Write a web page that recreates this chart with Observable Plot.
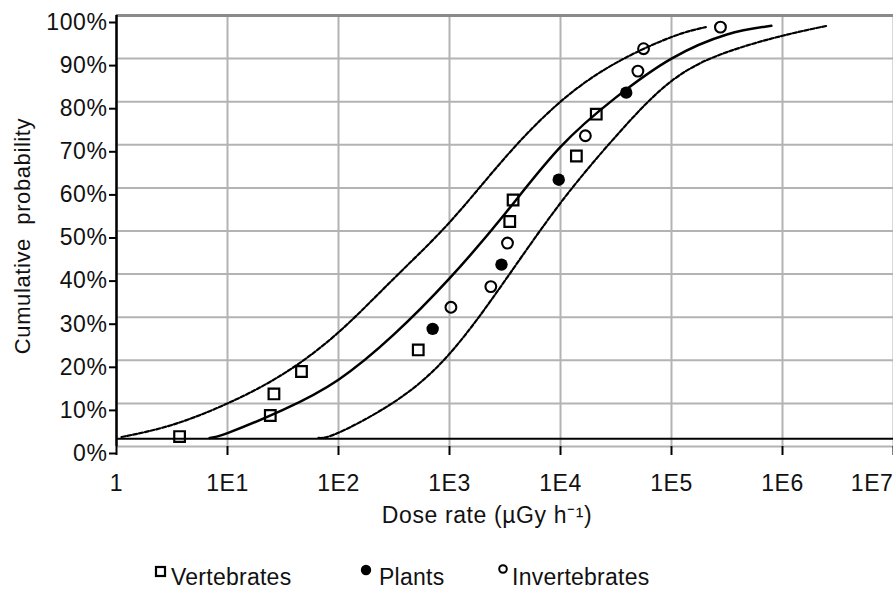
<!DOCTYPE html>
<html>
<head>
<meta charset="utf-8">
<script src="https://cdn.jsdelivr.net/npm/d3@7"></script>
<script src="https://cdn.jsdelivr.net/npm/@observablehq/plot@0.6"></script>
<style>
  html, body { margin: 0; padding: 0; background: white; overflow: hidden; }
  #wrap { position: relative; width: 893px; height: 603px; font-family: "Liberation Sans", Arial, sans-serif; }
  .leg { position: absolute; font-size: 23px; line-height: 23px; letter-spacing: 0.25px; color: #111; white-space: nowrap; }
  .mk { position: absolute; }
  svg text { letter-spacing: 0.6px; }
</style>
</head>
<body>
<div id="wrap"></div>
<script>
// ---- Data ----
const xTicks = [1, 10, 100, 1000, 10000, 100000, 1000000, 10000000];
const xTickLabels = ["1", "1E1", "1E2", "1E3", "1E4", "1E5", "1E6", "1E7"];
const yTicks = [0, 10, 20, 30, 40, 50, 60, 70, 80, 90, 100];

// Vertebrates (open squares)
const vertDose = [3.7, 24.3, 26.2, 46.4, 523, 3490, 3740, 13900, 21000];
const vertProb = [2.3, 7.2, 12.2, 17.4, 22.4, 52.2, 57.2, 67.4, 77.1];
// Plants (filled circles)
const plantDose = [705, 2940, 9640, 39100];
const plantProb = [27.3, 42.2, 61.9, 82.1];
// Invertebrates (open circles)
const invDose = [1030, 2357, 3330, 16750, 49800, 56000, 276000];
const invProb = [32.3, 37.1, 47.2, 72.1, 87.1, 92.3, 97.3];

// Fitted curve (solid) and its two bounds (dashed)
const midDose = [6.9, 10, 31.6, 100, 316, 1000, 3162, 10000, 31623, 100000, 316000, 794000];
const midProb = [2.0, 3.1, 8.5, 15.5, 26, 39, 54, 69.5, 81, 90, 95.6, 97.6];

const lowDose = [1.11, 3.16, 10, 31.6, 100, 316, 1000, 3162, 10000, 31623, 100000, 204000];
const lowProb = [2.2, 5.0, 10, 16.8, 26.5, 39, 52, 67, 80, 89, 95, 97.3];

const highDose = [66, 100, 316, 1000, 3162, 10000, 31623, 100000, 316000, 1000000, 2510000];
const highProb = [2.0, 3.2, 10.3, 21.5, 38.5, 56.5, 72, 84.8, 91.5, 95.3, 97.6];

const floorProb = 1.8;

const legendItems = ["Vertebrates", "Plants", "Invertebrates"];

// ---- Build tables ----
const zip = (xs, ys) => xs.map((x, i) => ({x, y: ys[i]}));
const vert = zip(vertDose, vertProb);
const plant = zip(plantDose, plantProb);
const inv = zip(invDose, invProb);
const mid = zip(midDose, midProb);
const low = zip(lowDose, lowProb);
const high = zip(highDose, highProb);
const tickRows = xTicks.map((v, i) => ({v, label: xTickLabels[i]}));

const font = "'Liberation Sans', Arial, sans-serif";
const fs = 23;

const chart = Plot.plot({
  width: 893,
  height: 603,
  marginLeft: 116,
  marginRight: 0,
  marginTop: 15,
  marginBottom: 157,
  style: {fontFamily: font, fontSize: fs + "px", background: "white", color: "#111", overflow: "visible"},
  x: {type: "log", domain: [1, 1e7]},
  y: {domain: [0, 100]},
  marks: [
    Plot.gridX(xTicks, {stroke: "#b3b3b3", strokeOpacity: 1, strokeWidth: 2}),
    Plot.gridY(yTicks, {stroke: "#b3b3b3", strokeOpacity: 1, strokeWidth: 2}),
    Plot.ruleY([100], {stroke: "#8a8a8a", strokeWidth: 3}),
    Plot.ruleY([floorProb], {stroke: "black", strokeWidth: 2}),
    Plot.ruleX([1], {stroke: "black", strokeWidth: 2.5}),
    Plot.axisY(yTicks, {tickSize: 7, tickPadding: 2, stroke: "black", strokeWidth: 2, fill: "#111",
      tickFormat: d => d + "%", dy: 7, fontSize: fs, label: null}),
    Plot.axisX(xTicks, {tickSize: 9, stroke: "black", strokeWidth: 2, tickFormat: () => "", label: null}),
    Plot.text(tickRows.slice(0, -1), {x: "v", text: "label", frameAnchor: "bottom", dy: 37, lineAnchor: "middle", textAnchor: "middle", fontSize: fs, fill: "#111"}),
    Plot.text(tickRows.slice(-1), {x: "v", text: "label", frameAnchor: "bottom", dy: 37, lineAnchor: "middle", textAnchor: "end", fontSize: fs, fill: "#111"}),
    Plot.text(["Dose rate (µGy h⁻¹)"], {frameAnchor: "bottom", dx: -18, dy: 69, lineAnchor: "middle", textAnchor: "middle", fontSize: fs, fill: "#111", style: "letter-spacing:1.1px"}),
    Plot.text(["Cumulative\u00A0 probability"], {frameAnchor: "left", dx: -94, dy: 5, rotate: -90, lineAnchor: "middle", textAnchor: "middle", fontSize: 22, fill: "#111"}),
    Plot.line(low, {x: "x", y: "y", stroke: "black", strokeWidth: 2.2, strokeDasharray: "4,2", curve: "natural"}),
    Plot.line(high, {x: "x", y: "y", stroke: "black", strokeWidth: 2.2, strokeDasharray: "4,2", curve: "natural"}),
    Plot.line(mid, {x: "x", y: "y", stroke: "black", strokeWidth: 2.5, curve: "natural"}),
    Plot.dot(vert, {x: "x", y: "y", symbol: "square", r: 6, stroke: "black", strokeWidth: 2.2, fill: "none"}),
    Plot.dot(plant, {x: "x", y: "y", r: 6.2, fill: "black", stroke: "none"}),
    Plot.dot(inv, {x: "x", y: "y", r: 5.4, stroke: "black", strokeWidth: 2.1, fill: "none"})
  ]
});

const wrap = document.getElementById("wrap");
wrap.appendChild(chart);

// ---- Legend (below the plot area) ----
const legendSymbols = [
  '<svg width="14" height="14"><rect x="2" y="2" width="9" height="9" fill="none" stroke="black" stroke-width="2.2"/></svg>',
  '<svg width="14" height="14"><circle cx="6" cy="6" r="5.2" fill="black"/></svg>',
  '<svg width="14" height="14"><circle cx="6" cy="6" r="3.8" fill="none" stroke="black" stroke-width="2"/></svg>'
];
const legMarkerLeft = [154, 360, 497];
const legMarkerTop = [565, 564, 563];
const legTextLeft = [171, 379, 512];
legendItems.forEach((name, i) => {
  const m = document.createElement("div");
  m.className = "mk";
  m.style.left = legMarkerLeft[i] + "px";
  m.style.top = legMarkerTop[i] + "px";
  m.innerHTML = legendSymbols[i];
  wrap.appendChild(m);
  const t = document.createElement("div");
  t.className = "leg";
  t.style.left = legTextLeft[i] + "px";
  t.style.top = "566px";
  t.textContent = name;
  wrap.appendChild(t);
});
</script>
</body>
</html>
